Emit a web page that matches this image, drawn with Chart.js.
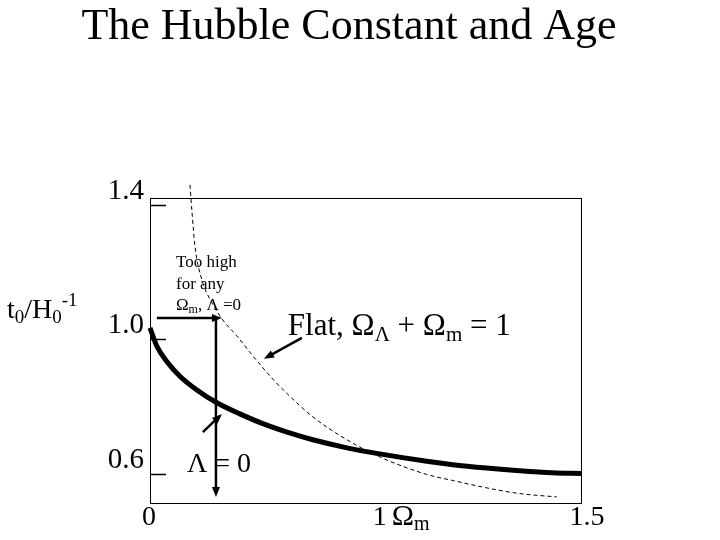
<!DOCTYPE html>
<html>
<head>
<meta charset="utf-8">
<title>The Hubble Constant and Age</title>
<script src="https://cdn.jsdelivr.net/npm/chart.js@4.4.1/dist/chart.umd.min.js"></script>
<style>
  html, body { margin: 0; padding: 0; background: #fff; }
  #grafico { display: block; }
</style>
</head>
<body>
<canvas id="grafico" width="720" height="540"></canvas>
<script>
// Lambda = 0 (linea gruesa)
const omegaOpen = [0, 0.030, 0.074, 0.130, 0.204, 0.291, 0.391, 0.491, 0.600, 0.709, 0.857, 1.0, 1.204, 1.317, 1.465, 1.609, 1.752, 1.878];
const edadOpen = [1.034, 0.979, 0.933, 0.890, 0.849, 0.811, 0.778, 0.749, 0.723, 0.701, 0.677, 0.659, 0.637, 0.627, 0.617, 0.609, 0.603, 0.601];

// plano, OmegaL + Omegam = 1 (linea punteada)
const omegaFlat = [0.174, 0.183, 0.196, 0.226, 0.270, 0.317, 0.378, 0.435, 0.535, 0.600, 0.709, 0.857, 1.0, 1.204, 1.317, 1.465, 1.609, 1.770];
const edadFlat = [1.459, 1.376, 1.275, 1.176, 1.108, 1.057, 1.010, 0.961, 0.881, 0.836, 0.769, 0.701, 0.650, 0.598, 0.580, 0.558, 0.541, 0.531];

const yTicks = [0.6, 1.0, 1.4];
const yTickLabels = ['0.6', '1.0', '1.4'];
// la diapositiva pone "1.5" en el extremo derecho del eje
const xTicks = [0, 1, 1.88];
const xTickLabels = ['0', '1', '1.5'];

const fuente = "'Liberation Serif', 'Times New Roman', serif";

const aPuntos = (xs, ys) => xs.map((x, i) => ({ x: x, y: ys[i] }));

// partes: [texto, tamaño, desplazamiento vertical]
function textoRico(ctx, partes, x, y, align) {
    let ancho = 0;
    partes.forEach((p) => {
        ctx.font = p[1] + 'px ' + fuente;
        ancho += ctx.measureText(p[0]).width;
    });
    let cx = x;
    if (align === 'right') cx = x - ancho;
    if (align === 'center') cx = x - ancho / 2;
    ctx.textAlign = 'left';
    ctx.textBaseline = 'alphabetic';
    partes.forEach((p) => {
        ctx.font = p[1] + 'px ' + fuente;
        ctx.fillText(p[0], cx, y + p[2]);
        cx += ctx.measureText(p[0]).width;
    });
}

function flecha(ctx, x1, y1, x2, y2, grosor, punta) {
    const ang = Math.atan2(y2 - y1, x2 - x1);
    const c = Math.cos(ang), s = Math.sin(ang);
    ctx.lineWidth = grosor;
    ctx.beginPath();
    ctx.moveTo(x1, y1);
    ctx.lineTo(x2 - c * punta * 0.7, y2 - s * punta * 0.7);
    ctx.stroke();
    ctx.beginPath();
    ctx.moveTo(x2, y2);
    ctx.lineTo(x2 - punta * c + punta * 0.4 * s, y2 - punta * s - punta * 0.4 * c);
    ctx.lineTo(x2 - punta * c - punta * 0.4 * s, y2 - punta * s + punta * 0.4 * c);
    ctx.closePath();
    ctx.fill();
}

// flechas en unidades de los ejes
const flechas = [
    { desde: [0.030, 1.063], hasta: [0.313, 1.063], grosor: 2.5, punta: 10 },
    { desde: [0.287, 1.063], hasta: [0.287, 0.531], grosor: 2.5, punta: 10 },
    { desde: [0.230, 0.724], hasta: [0.313, 0.778], grosor: 2.5, punta: 10 },
    { desde: [0.661, 1.004], hasta: [0.496, 0.942], grosor: 2.5, punta: 10 }
];

const dibujoExtra = {
    id: 'dibujoExtra',
    beforeDatasetsDraw(chart) {
        const ctx = chart.ctx;
        const area = chart.chartArea;
        ctx.save();
        ctx.strokeStyle = '#000';
        ctx.lineWidth = 1;
        ctx.strokeRect(area.left + 0.5, area.top + 0.5, area.right - area.left - 1, area.bottom - area.top - 1);
        ctx.restore();
    },
    afterDraw(chart) {
        const ctx = chart.ctx;
        const sx = chart.scales.x;
        const sy = chart.scales.y;
        const area = chart.chartArea;
        ctx.save();
        ctx.fillStyle = '#000';
        ctx.strokeStyle = '#000';

        // titulo
        ctx.font = '44px ' + fuente;
        ctx.textAlign = 'center';
        ctx.textBaseline = 'alphabetic';
        ctx.fillText('The Hubble Constant and Age', 349, 39);

        // ticks del eje y (hacia dentro)
        yTicks.forEach((v, i) => {
            const py = Math.round(sy.getPixelForValue(v)) + 0.5;
            ctx.lineWidth = 1.5;
            ctx.beginPath();
            ctx.moveTo(area.left, py);
            ctx.lineTo(area.left + 16, py);
            ctx.stroke();
            textoRico(ctx, [[yTickLabels[i], 29, 0]], area.left - 6, py - 7, 'right');
        });

        // titulo eje y
        textoRico(ctx, [['t', 28, 0], ['0', 19, 5], ['/H', 28, 0], ['0', 19, 5], ['-1', 19, -12]], 7, 318, 'left');

        // etiquetas eje x
        const yx = area.bottom + 21;
        textoRico(ctx, [[xTickLabels[0], 28, 0]], sx.getPixelForValue(xTicks[0]) - 1, yx, 'center');
        textoRico(ctx, [[xTickLabels[1], 28, 0]], sx.getPixelForValue(xTicks[1]), yx, 'center');
        textoRico(ctx, [['Ω', 30, 0], ['m', 20, 5]], sx.getPixelForValue(xTicks[1]) + 12, yx, 'left');
        textoRico(ctx, [[xTickLabels[2], 28, 0]], sx.getPixelForValue(xTicks[2]) + 5, yx, 'center');

        // anotaciones
        textoRico(ctx, [['Too high', 17, 0]], sx.getPixelForValue(0.113), sy.getPixelForValue(1.215), 'left');
        textoRico(ctx, [['for any', 17, 0]], sx.getPixelForValue(0.113), sy.getPixelForValue(1.150), 'left');
        textoRico(ctx, [['Ω', 17, 0], ['m', 12, 3], [', Λ =0', 17, 0]], sx.getPixelForValue(0.113), sy.getPixelForValue(1.087), 'left');
        textoRico(ctx, [['Flat, Ω', 31, 0], ['Λ', 21, 6], [' + Ω', 31, 0], ['m', 21, 6], [' = 1', 31, 0]], sx.getPixelForValue(0.600), sy.getPixelForValue(1.013), 'left');
        textoRico(ctx, [['Λ = 0', 28, 0]], sx.getPixelForValue(0.161), sy.getPixelForValue(0.605), 'left');

        flechas.forEach((f) => {
            flecha(ctx,
                sx.getPixelForValue(f.desde[0]), sy.getPixelForValue(f.desde[1]),
                sx.getPixelForValue(f.hasta[0]), sy.getPixelForValue(f.hasta[1]),
                f.grosor, f.punta);
        });
        ctx.restore();
    }
};

const config = {
    type: 'scatter',
    data: {
        datasets: [
            {
                label: 'Lambda = 0',
                data: aPuntos(omegaOpen, edadOpen),
                showLine: true,
                borderColor: '#000',
                borderWidth: 5,
                pointRadius: 0,
                cubicInterpolationMode: 'monotone',
                clip: false
            },
            {
                label: 'Flat',
                data: aPuntos(omegaFlat, edadFlat),
                showLine: true,
                borderColor: '#000',
                borderWidth: 1,
                borderDash: [4, 3],
                pointRadius: 0,
                cubicInterpolationMode: 'monotone',
                clip: false
            }
        ]
    },
    options: {
        responsive: false,
        animation: false,
        layout: { padding: { left: 150, top: 198, right: 138, bottom: 36 } },
        plugins: {
            legend: { display: false },
            tooltip: { enabled: false }
        },
        scales: {
            x: { type: 'linear', min: 0, max: 1.88, display: false },
            y: { type: 'linear', min: 0.51, max: 1.42, display: false }
        }
    },
    plugins: [dibujoExtra]
};

const grafico = new Chart(document.getElementById('grafico'), config);
</script>
</body>
</html>
